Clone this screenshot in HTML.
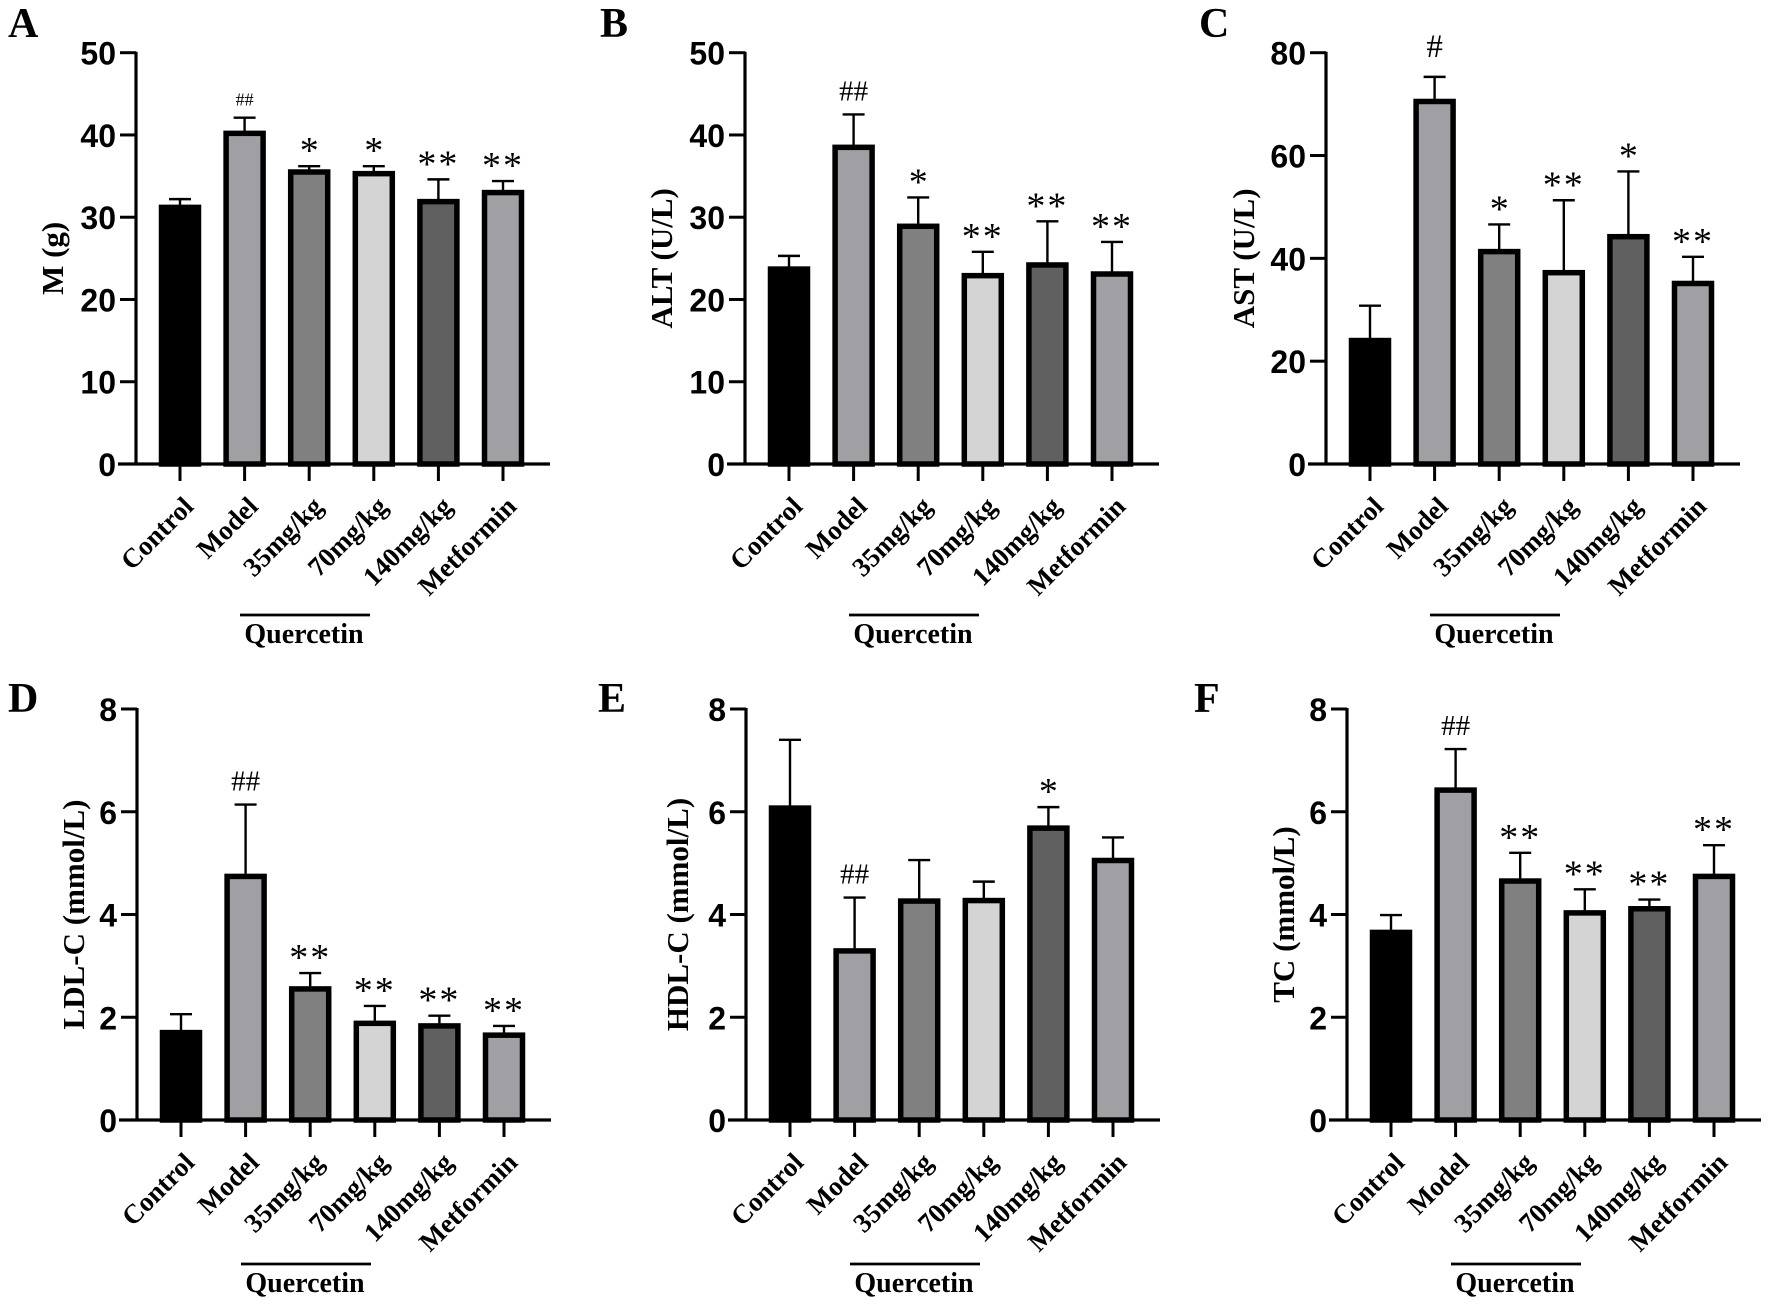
<!DOCTYPE html>
<html><head><meta charset="utf-8"><style>
html,body{margin:0;padding:0;background:#fff;}
svg{display:block;}
</style></head><body>
<svg id="fig" width="1772" height="1306" viewBox="0 0 1772 1306" xmlns="http://www.w3.org/2000/svg"></svg>
<script>
const categories = ["Control","Model","35mg/kg","70mg/kg","140mg/kg","Metformin"];
const fills = ["#000000","#a0a0a4","#808080","#d4d4d4","#606060","#a0a0a4"];
const valuesA = [31.5, 40.5, 35.8, 35.6, 32.2, 33.3];
const errTopA = [32.2, 42.1, 36.2, 36.2, 34.6, 34.4];
const signifA = ["", "##", "*", "*", "**", "**"];
const valuesB = [24.0, 38.8, 29.2, 23.2, 24.5, 23.4];
const errTopB = [25.3, 42.5, 32.4, 25.8, 29.5, 27.0];
const signifB = ["", "##", "*", "**", "**", "**"];
const valuesC = [24.5, 71.0, 41.8, 37.7, 44.7, 35.6];
const errTopC = [30.8, 75.3, 46.6, 51.3, 56.9, 40.3];
const signifC = ["", "#", "*", "**", "*", "**"];
const valuesD = [1.75, 4.79, 2.60, 1.93, 1.88, 1.70];
const errTopD = [2.06, 6.14, 2.86, 2.22, 2.03, 1.83];
const signifD = ["", "##", "**", "**", "**", "**"];
const valuesE = [6.12, 3.34, 4.31, 4.32, 5.73, 5.10];
const errTopE = [7.40, 4.33, 5.06, 4.64, 6.09, 5.50];
const signifE = ["", "##", "", "", "*", ""];
const valuesF = [3.70, 6.47, 4.70, 4.08, 4.16, 4.79];
const errTopF = [3.99, 7.22, 5.20, 4.49, 4.29, 5.35];
const signifF = ["", "##", "**", "**", "**", "**"];
const ticksA = [0,10,20,30,40,50];
const ticksC = [0,20,40,60,80];
const ticks8 = [0,2,4,6,8];

const NS = "http://www.w3.org/2000/svg";
const svg = document.getElementById("fig");
function mk(tag, attrs, parent, txt){
  const e = document.createElementNS(NS, tag);
  for (const k in attrs) e.setAttribute(k, attrs[k]);
  if (txt !== undefined) e.textContent = txt;
  (parent||svg).appendChild(e);
  return e;
}
const panels = [
  {id:"a", letter:"A", lx:8, ly:37, ax:136, y0:464, ytop:52.7, max:50, ticks:ticksA, vals:valuesA, errs:errTopA, sig:signifA, title:"M (g)", tdx:84, hashSize:18, hashOff:12},
  {id:"b", letter:"B", lx:600, ly:37, ax:745, y0:464, ytop:52.7, max:50, ticks:ticksA, vals:valuesB, errs:errTopB, sig:signifB, title:"ALT (U/L)", tdx:84, hashSize:29, hashOff:14},
  {id:"c", letter:"C", lx:1199, ly:37, ax:1326, y0:464, ytop:52.7, max:80, ticks:ticksC, vals:valuesC, errs:errTopC, sig:signifC, title:"AST (U/L)", tdx:83, hashSize:33, hashOff:20},
  {id:"d", letter:"D", lx:8, ly:712, ax:137, y0:1120, ytop:709, max:8, ticks:ticks8, vals:valuesD, errs:errTopD, sig:signifD, title:"LDL-C (mmol/L)", tdx:64, hashSize:29, hashOff:14},
  {id:"e", letter:"E", lx:598, ly:712, ax:746, y0:1120, ytop:709, max:8, ticks:ticks8, vals:valuesE, errs:errTopE, sig:signifE, title:"HDL-C (mmol/L)", tdx:69, hashSize:29, hashOff:14},
  {id:"f", letter:"F", lx:1194, ly:712, ax:1347, y0:1120, ytop:709, max:8, ticks:ticks8, vals:valuesF, errs:errTopF, sig:signifF, title:"TC (mmol/L)", tdx:64, hashSize:29, hashOff:14}
];
panels.forEach(p => {
  const g = mk("g", {});
  
  
  const yS = v => p.y0 - (v / p.max) * (p.y0 - p.ytop);
  const xS = i => p.ax + 44 + i * 64.6;
  const L = mk("text", {x:p.lx, y:p.ly, "font-family":"Liberation Serif, serif", "font-weight":"bold", "font-size":42}, g, p.letter);
  
  
  p.vals.forEach((v, i) => {
    const cx = xS(i);
    const top = yS(v), et = yS(p.errs[i]);
    const err = mk("g", {stroke:"#000", "stroke-width":2.4}, g);
    
    
    mk("line", {x1:cx, y1:top, x2:cx, y2:et}, err);
    mk("line", {x1:cx-11, y1:et, x2:cx+11, y2:et}, err);
    const r = mk("rect", {x:cx-18.5, y:top+2.5, width:37, height:Math.max(0, p.y0 - top - 2.5), fill:fills[i], stroke:"#000", "stroke-width":5.5}, g);
    
    
    const s = p.sig[i];
    if (s) {
      let t;
      if (s[0] === "#") {
        t = mk("text", {x:cx, y:et - p.hashOff, "text-anchor":"middle", "font-family":"Liberation Serif, serif", "font-size":p.hashSize}, g, s);
      } else {
        t = mk("text", {x:cx, y:et - 3, "text-anchor":"middle", "font-family":"Liberation Serif, serif", "font-size":38, "letter-spacing":s.length > 1 ? 2 : 0}, g, s);
      }
      
      
    }
    const tk = mk("line", {x1:cx, y1:p.y0, x2:cx, y2:p.y0 + 17, stroke:"#000", "stroke-width":3}, g);
    
    
    const lb = mk("text", {transform:`translate(${cx+15},${p.y0+44}) rotate(-45)`, "text-anchor":"end", "font-family":"Liberation Serif, serif", "font-weight":"bold", "font-size":27}, g, categories[i]);
    
    
  });
  const ya = mk("line", {x1:p.ax, y1:p.ytop - 1, x2:p.ax, y2:p.y0 + 1.5, stroke:"#000", "stroke-width":3.2}, g);
  
  
  const xa = mk("line", {x1:p.ax - 18, y1:p.y0, x2:p.ax + 414, y2:p.y0, stroke:"#000", "stroke-width":3.2}, g);
  
  
  p.ticks.forEach(t => {
    const y = yS(t);
    const tl = mk("line", {x1:p.ax - 16, y1:y, x2:p.ax, y2:y, stroke:"#000", "stroke-width":3}, g);
    
    
    const tt = mk("text", {x:p.ax - 20, y:y + 12, "text-anchor":"end", "font-family":"Liberation Sans, Arial, sans-serif", "font-weight":"bold", "font-size":32}, g, String(t));
    
    
  });
  const tx = p.ax - p.tdx, ty = (p.y0 + p.ytop) / 2;
  const yt = mk("text", {transform:`translate(${tx + 11},${ty}) rotate(-90)`, "text-anchor":"middle", "font-family":"Liberation Serif, serif", "font-weight":"bold", "font-size":31}, g, p.title);
  
  
  const row2 = p.y0 > 800;
  const ly = row2 ? p.y0 + 144 : p.y0 + 151;
  const ql = mk("line", {x1:p.ax + 104, y1:ly, x2:p.ax + 234, y2:ly, stroke:"#000", "stroke-width":2.8}, g);
  
  
  const qt = mk("text", {x:p.ax + 168, y:ly + 28, "text-anchor":"middle", "font-family":"Liberation Serif, serif", "font-weight":"bold", "font-size":28}, g, "Quercetin");
  
  
});
</script>
</body></html>
